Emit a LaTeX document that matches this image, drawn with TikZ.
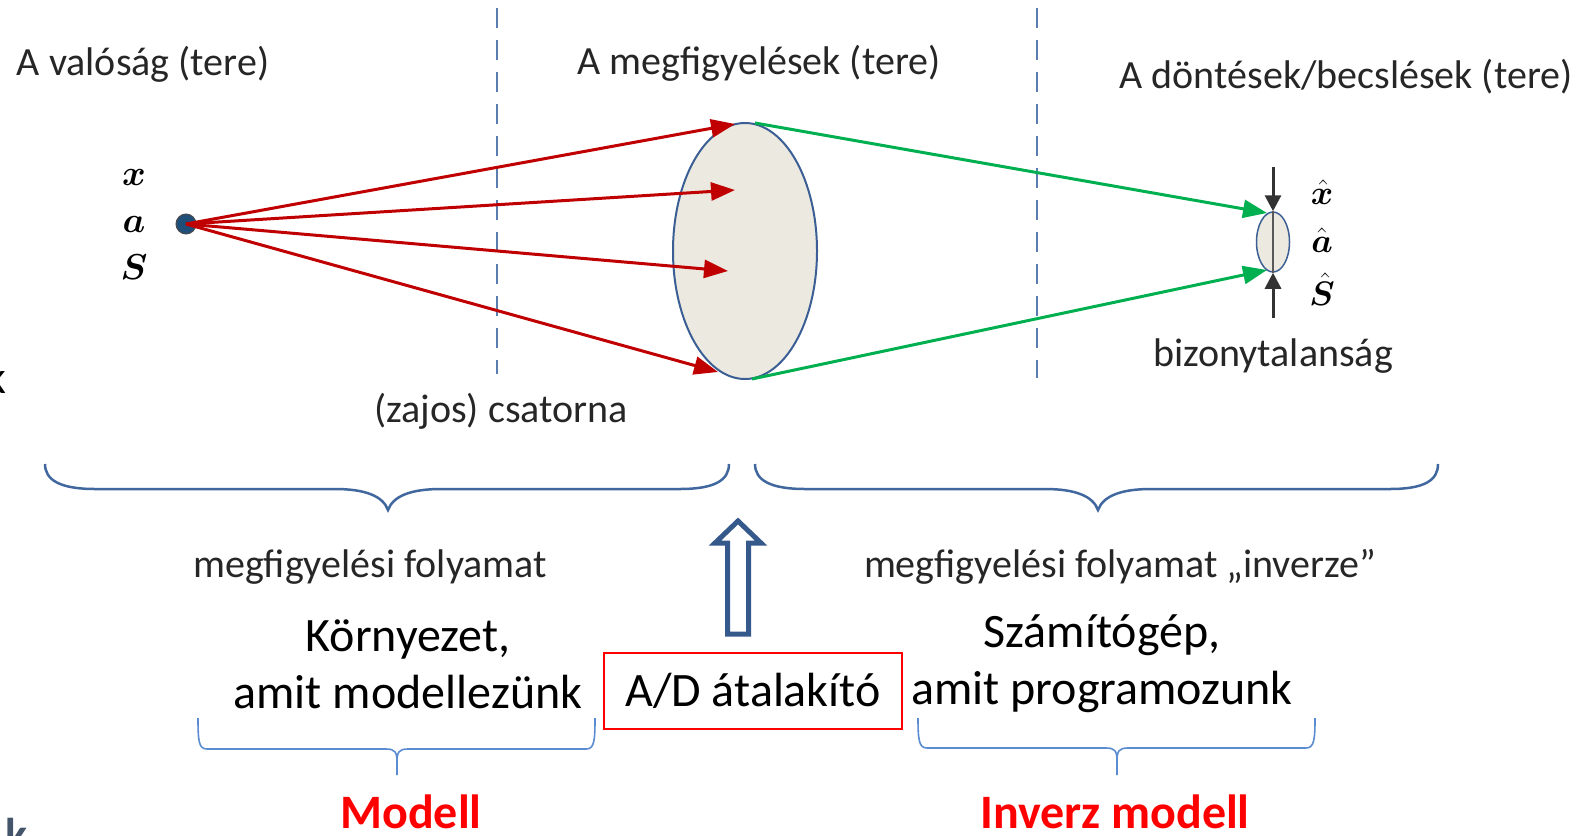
\documentclass[tikz,border=0pt]{standalone}
\usepackage{fix-cm}
\usepackage{fontspec}
\setmainfont{Carlito}
\usepackage{bm}
\usetikzlibrary{arrows.meta,shapes.geometric}
\definecolor{redarr}{HTML}{C00000}
\definecolor{greenarr}{HTML}{00B050}
\definecolor{dashblue}{HTML}{5A7DB0}
\definecolor{bracecol}{HTML}{41679F}
\definecolor{smallbrace}{HTML}{5B8BD0}
\definecolor{ellfill}{HTML}{ECEAE0}
\definecolor{ellline}{HTML}{3B5F94}
\definecolor{dotfill}{HTML}{1F4E79}
\definecolor{hollow}{HTML}{35598B}
\definecolor{slate}{HTML}{44546A}
\newcommand\myfs[1]{\fontsize{#1bp}{#1bp}\selectfont}
\begin{document}
\begin{tikzpicture}[x=1bp,y=-1bp,
  toplbl/.style={font=\myfs{40}, text=black!85, inner sep=0},
  biglbl/.style={font=\myfs{48}, text=black, inner sep=0, align=center},
  redlbl/.style={font=\myfs{48}\bfseries, text=red, inner sep=0},
  mathlbl/.style={font=\myfs{36}, inner sep=0},
  hatlbl/.style={font=\myfs{34}, inner sep=0},
  redarrow/.style={draw=redarr, line width=3bp, -{Triangle[length=24bp,width=18bp]}},
  greenarrow/.style={draw=greenarr, line width=3bp, -{Triangle[length=24bp,width=18bp]}},
  blackarrow/.style={draw=black!80, line width=3bp, -{Triangle[length=16bp,width=16bp]}},
  divider/.style={draw=dashblue, line width=2.5bp, dash pattern=on 20bp off 12bp},
  bigbrace/.style={draw=bracecol, line width=2.5bp},
  smbrace/.style={draw=smallbrace, line width=1.6bp}]
\useasboundingbox (0,0) rectangle (1582,835);
\clip (0,0) rectangle (1582,835);

% dividers
\coordinate (d1t) at (497,8);
\coordinate (d1b) at (497,374);
\coordinate (d2t) at (1037,8);
\coordinate (d2b) at (1037,378);
\draw[divider] (d1t) -- (d1b);
\draw[divider] (d2t) -- (d2b);

% headings
\node[toplbl] (h1) at (143,64) {A valóság (tere)};
\node[toplbl] (h2) at (759,63) {A megfigyelések (tere)};
\node[toplbl] (h3) at (1346,77) {A döntések/becslések (tere)};

% source
\node[mathlbl] (vx) at (134,177) {$\bm{x}$};
\node[mathlbl] (va) at (134,224) {$\bm{a}$};
\node[mathlbl] (vs) at (134,267) {$\bm{S}$};
\node[circle, fill=dotfill, draw=black!70, line width=1bp, minimum size=20bp, inner sep=0] (dot) at (186,224) {};

% observation ellipse
\node[ellipse, fill=ellfill, draw=ellline, line width=2bp, minimum width=144bp, minimum height=256bp, inner sep=0] (ell) at (745,251) {};

% red arrows
\coordinate (r1) at (735,124);
\coordinate (r2) at (735,190);
\coordinate (r3) at (728,271);
\coordinate (r4) at (718,372);
\draw[redarrow] (dot.center) -- (r1);
\draw[redarrow] (dot.center) -- (r2);
\draw[redarrow] (dot.center) -- (r3);
\draw[redarrow] (dot.center) -- (r4);

% estimate ellipse
\node[ellipse, fill=ellfill, draw=ellline, line width=1.5bp, minimum width=33bp, minimum height=60bp, inner sep=0] (sell) at (1273,242) {};
\coordinate (g1) at (1267,213);
\coordinate (g2) at (1267,270);
\coordinate (gs1) at (755,123);
\coordinate (gs2) at (752,379);
\draw[greenarrow] (gs1) -- (g1);
\draw[greenarrow] (gs2) -- (g2);

\coordinate (bt) at (1273,167);
\coordinate (bb) at (1273,318);
\draw[draw=black!65, line width=2.5bp] (sell.north) -- (sell.south);
\draw[blackarrow] (bt) -- (sell.north);
\draw[blackarrow] (bb) -- (sell.south);

\node[hatlbl] (hx) at (1322,192) {$\hat{\bm{x}}$};
\node[hatlbl] (ha) at (1322,240) {$\hat{\bm{a}}$};
\node[hatlbl] (hs) at (1322,289) {$\hat{\bm{S}}$};

\node[toplbl] (unc) at (1273,356) {bizonytalanság};
\node[toplbl] (chan) at (501,411) {(zajos) csatorna};

% big braces
\draw[bigbrace] (45,464) .. controls (45,480) and (60,489) .. (95,489) -- (335,489)
  .. controls (365,489) and (383,496) .. (388,510)
  .. controls (393,496) and (411,489) .. (441,489) -- (680,489)
  .. controls (715,489) and (729,480) .. (729,464);
\draw[bigbrace] (755,464) .. controls (755,480) and (770,489) .. (805,489) -- (1045,489)
  .. controls (1075,489) and (1093,496) .. (1098,510)
  .. controls (1103,496) and (1121,489) .. (1151,489) -- (1390,489)
  .. controls (1425,489) and (1438,480) .. (1438,464);

\node[toplbl] (mf1) at (370,567) {megfigyelési folyamat};
\node[toplbl] (mf2) at (1120,567) {megfigyelési folyamat „inverze”};

% hollow arrow
\draw[draw=hollow, line width=5bp, fill=white, line join=miter]
  (738,521) -- (761,543) -- (748.5,543) -- (748.5,634) -- (727.5,634) -- (727.5,543) -- (715,543) -- cycle;

% bottom texts
\node[biglbl] (env) at (408,664) {Környezet,\\[9bp]amit modellezünk};
\node[draw=red, line width=1.6bp, minimum width=298bp, minimum height=76bp, inner sep=0, font=\myfs{48}] (ad) at (753,691) {A/D átalakító};
\node[biglbl] (comp) at (1102,664) {Számítógép,\\[9bp]amit programozunk};

% small braces
\draw[smbrace] (198,718) .. controls (198,742) and (199,749) .. (207,749) -- (386,749)
  .. controls (395,749) and (397,752) .. (397,762) -- (397,775);
\draw[smbrace] (595,718) .. controls (595,742) and (594,749) .. (586,749) -- (408,749)
  .. controls (399,749) and (397,752) .. (397,762);
\draw[smbrace] (918,718) .. controls (918,740) and (919,748) .. (927,748) -- (1106,748)
  .. controls (1115,748) and (1117,751) .. (1117,761) -- (1117,775);
\draw[smbrace] (1315,718) .. controls (1315,740) and (1314,748) .. (1306,748) -- (1128,748)
  .. controls (1119,748) and (1117,751) .. (1117,761);

\node[redlbl] (mod) at (411,812) {Modell};
\node[redlbl] (inv) at (1115,812) {Inverz modell};

% cropped fragments at the left edge
\node[font=\myfs{46}, inner sep=0, anchor=base east] (frag1) at (7,393) {k};
\node[font=\myfs{46}\bfseries, text=slate, inner sep=0, anchor=base west] (frag2) at (5,850) {k};
\end{tikzpicture}
\end{document}
